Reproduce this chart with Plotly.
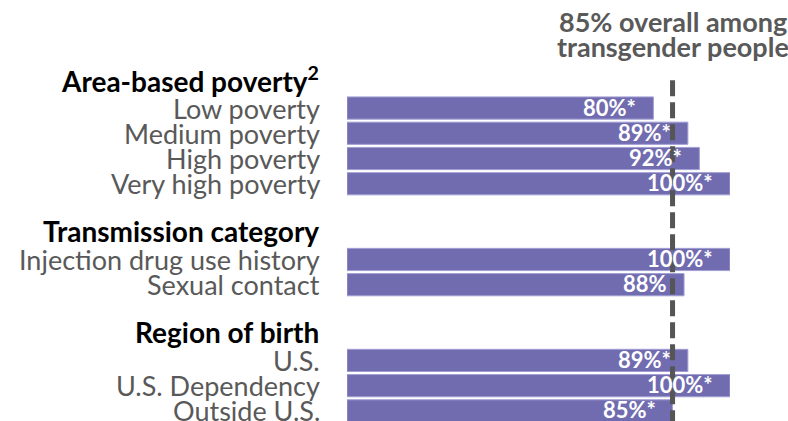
import plotly.graph_objects as go

# Row labels (top to bottom), grouped under section headers
categories = [
    "Low poverty", "Medium poverty", "High poverty", "Very high poverty",
    "Injection drug use history", "Sexual contact",
    "U.S.", "U.S. Dependency", "Outside U.S.",
]
values = [80, 89, 92, 100, 100, 88, 89, 100, 85]
value_labels = ["80%*", "89%*", "92%*", "100%*", "100%*", "88%", "89%*", "100%*", "85%*"]
# slot index of each bar (blank slots hold section headers / spacing)
slots = [0, 1, 2, 3, 6, 7, 10, 11, 12]

headers = ["Area-based poverty<sup>2</sup>", "Transmission category", "Region of birth"]
header_slots = [-1, 5, 9]

overall = 85
overall_lines = ["85% overall among", "transgender people"]

FONT = "Lato"
BAR = "#716cb0"
GRAY = "#595959"

fig = go.Figure()
fig.add_trace(go.Bar(
    x=values, y=slots, orientation="h",
    marker=dict(color=BAR, line=dict(color="#a29ed3", width=1)),
    hoverinfo="skip",
))

# value labels inside the bar end
for v, s, t in zip(values, slots, value_labels):
    fig.add_annotation(x=v, y=s, text=f"<b>{t}</b>", xref="x", yref="y",
                       xanchor="right", yanchor="middle", xshift=-15, yshift=1,
                       showarrow=False, font=dict(family=FONT, size=22, color="white"))

# category labels
for c, s in zip(categories, slots):
    fig.add_annotation(x=0, y=s, text=c, xref="x", yref="y",
                       xanchor="right", yanchor="middle", xshift=-25,
                       showarrow=False, font=dict(family=FONT, size=27, color=GRAY))

# section headers
for h, s in zip(headers, header_slots):
    fig.add_annotation(x=0, y=s - 0.12, text=f"<b>{h}</b>", xref="x", yref="y",
                       xanchor="right", yanchor="middle", xshift=-26,
                       showarrow=False, font=dict(family=FONT, size=28, color="black"))

# overall reference line
fig.add_shape(type="line", x0=overall, x1=overall, y0=-1.1, y1=12.4,
              xref="x", yref="y",
              line=dict(color="#555555", width=5, dash="16px,6px"))
for i, line in enumerate(overall_lines):
    fig.add_annotation(x=overall, y=-3.42 + i * 0.97, xref="x", yref="y",
                       text=f"<b>{line}</b>", xanchor="center", yanchor="middle",
                       showarrow=False, font=dict(family=FONT, size=27, color=GRAY))

fig.update_layout(
    width=788, height=421,
    margin=dict(l=347, r=58, t=0, b=0),
    paper_bgcolor="white", plot_bgcolor="white",
    bargap=0.12, showlegend=False,
    xaxis=dict(range=[0, 100], visible=False, fixedrange=True),
    yaxis=dict(range=[12.4, -4.28], visible=False, fixedrange=True),
)

fig.write_html("out.html")
